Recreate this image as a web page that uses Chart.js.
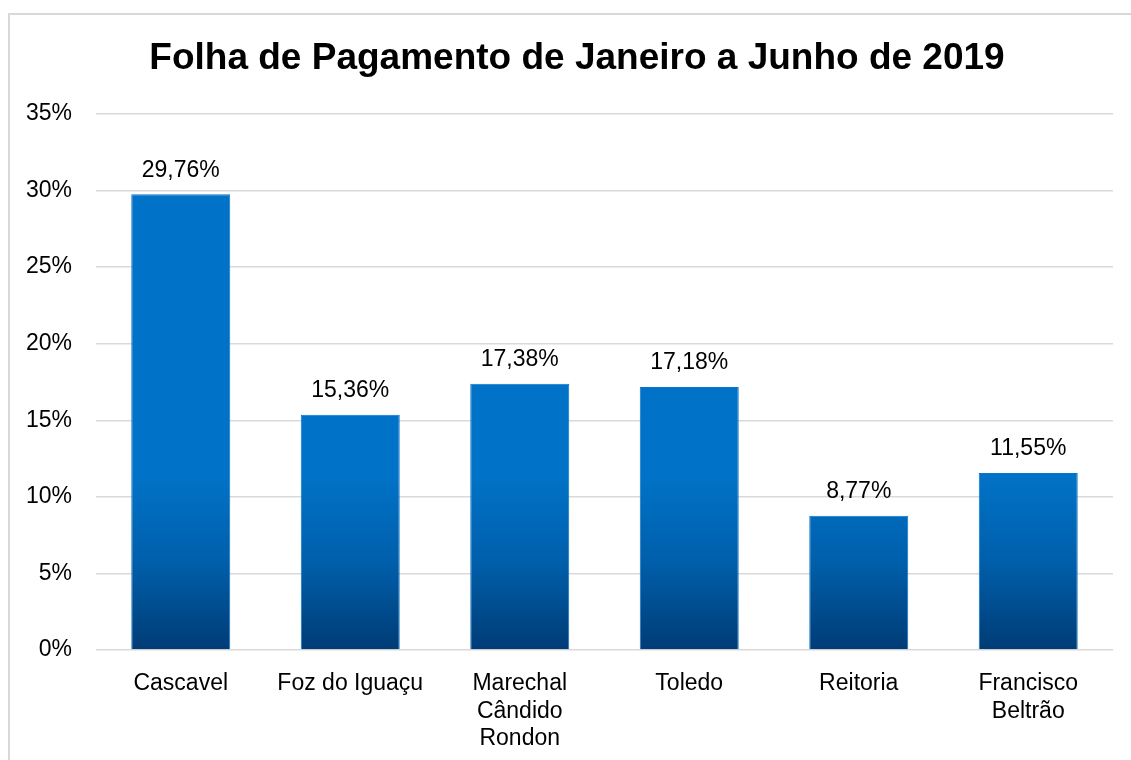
<!DOCTYPE html>
<html>
<head>
<meta charset="utf-8">
<script src="https://cdn.jsdelivr.net/npm/chart.js@4/dist/chart.umd.min.js"></script>
<style>
  html, body { margin: 0; padding: 0; background: #fff; }
  #wrap { position: relative; width: 1131px; height: 760px; }
  canvas { display: block; }
</style>
</head>
<body>
<div id="wrap"><canvas id="c" width="1131" height="760"></canvas></div>
<script>
const titleText = 'Folha de Pagamento de Janeiro a Junho de 2019';
const categories = ['Cascavel', 'Foz do Iguaçu', ['Marechal', 'Cândido', 'Rondon'], 'Toledo', 'Reitoria', ['Francisco', 'Beltrão']];
const values = [29.76, 15.36, 17.38, 17.18, 8.77, 11.55];
const yTicks = [0, 5, 10, 15, 20, 25, 30, 35];

const FONT = '"Liberation Sans", Arial, Helvetica, sans-serif';

function fmt(v) { return v.toFixed(2).replace('.', ',') + '%'; }

const framePlugin = {
  id: 'frame',
  beforeDraw(chart) {
    const ctx = chart.ctx;
    ctx.save();
    ctx.fillStyle = '#ffffff';
    ctx.fillRect(0, 0, chart.width, chart.height);
    ctx.strokeStyle = '#d9d9d9';
    ctx.lineWidth = 2;
    ctx.strokeRect(9, 14, chart.width + 20, chart.height + 20);
    ctx.restore();
  },
  afterDraw(chart) {
    const ctx = chart.ctx;
    ctx.save();
    ctx.fillStyle = '#000';
    ctx.font = 'bold 37px ' + FONT;
    ctx.textAlign = 'center';
    ctx.textBaseline = 'middle';
    ctx.fillText(titleText, 577, 59);
    ctx.restore();
  }
};

const gradientPlugin = {
  id: 'barGradient',
  beforeDatasetsDraw(chart) {
    const meta = chart.getDatasetMeta(0);
    const ctx = chart.ctx;
    meta.data.forEach((bar) => {
      const top = bar.y, bottom = bar.base;
      if (!isFinite(top) || !isFinite(bottom) || top === bottom) return;
      const g = ctx.createLinearGradient(0, top, 0, bottom);
      g.addColorStop(0, '#0073c8');
      g.addColorStop(0.5, '#005fab');
      g.addColorStop(1, '#003c76');
      bar.options.backgroundColor = g;
    });
  }
};

const labelPlugin = {
  id: 'barLabels',
  afterDatasetsDraw(chart) {
    const ctx = chart.ctx;
    const meta = chart.getDatasetMeta(0);
    ctx.save();
    ctx.fillStyle = '#000';
    ctx.font = '23px ' + FONT;
    ctx.textAlign = 'center';
    ctx.textBaseline = 'middle';
    meta.data.forEach((bar, i) => {
      ctx.fillText(fmt(values[i]), bar.x, bar.y - 24);
    });
    ctx.restore();
  }
};

new Chart(document.getElementById('c'), {
  type: 'bar',
  data: {
    labels: categories,
    datasets: [{
      data: values,
      backgroundColor: '#0070c0',
      borderColor: '#0a74c8',
      borderWidth: 1,
      barPercentage: 0.584,
      categoryPercentage: 1
    }]
  },
  options: {
    responsive: false,
    animation: false,
    devicePixelRatio: 1,
    layout: { padding: { top: 114, right: 18, left: 0, bottom: 0 } },
    plugins: {
      legend: { display: false },
      title: { display: false },
      tooltip: { enabled: false }
    },
    scales: {
      x: {
        grid: { display: false, drawTicks: false },
        border: { display: false },
        ticks: {
          color: '#000',
          font: { family: FONT, size: 23, lineHeight: 1.2 },
          padding: 20,
          maxRotation: 0,
          autoSkip: false
        },
        afterFit(scale) { scale.height = 110; }
      },
      y: {
        min: 0,
        max: 35,
        grid: { color: '#d9d9d9', lineWidth: 1.5, drawTicks: false },
        border: { display: false },
        afterBuildTicks(scale) { scale.ticks = yTicks.map(v => ({ value: v })); },
        ticks: {
          color: '#000',
          font: { family: FONT, size: 23 },
          padding: 24,
          callback: (v) => v + '%'
        },
        afterFit(scale) { scale.width = 96; }
      }
    }
  },
  plugins: [framePlugin, gradientPlugin, labelPlugin]
});
</script>
</body>
</html>
